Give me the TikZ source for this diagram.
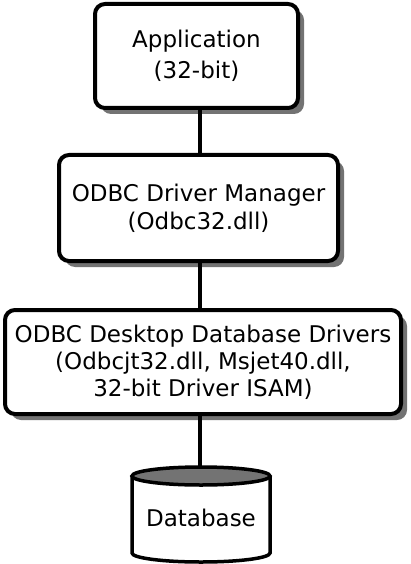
\documentclass[tikz,border=0pt]{standalone}
\usepackage{fontspec}
\setmainfont{DejaVu Sans}
\usetikzlibrary{shadows}

\begin{document}
\begin{tikzpicture}[x=1pt, y=1pt,
    layer/.style={draw, rounded corners=10pt, fill=white, align=center, inner sep=0pt, line width=4pt,
      drop shadow={shadow xshift=6pt, shadow yshift=-6pt, fill=black!55, opacity=1}},
    link/.style={line width=3.5pt},
]
  \useasboundingbox (0,0) rectangle (410,-564);
  \coordinate (ctr) at (200,0);

  % the three software layers
  \node[layer, minimum width=203pt, minimum height=104pt, font=\fontsize{23}{31}\selectfont] (app) at (196.5,-56) {Application\\(32-bit)};
  \node[layer, minimum width=279pt, minimum height=106pt, font=\fontsize{23}{28}\selectfont] (mgr) at (198.5,-208) {ODBC Driver Manager\\(Odbc32.dll)};
  \node[layer, minimum width=396pt, minimum height=104pt, font=\fontsize{23}{27}\selectfont] (drv) at (203,-362) {ODBC Desktop Database Drivers\\(Odbcjt32.dll, Msjet40.dll,\\32-bit Driver ISAM)};

  % database drum
  \draw[line width=3.5pt, fill=white] (132,-476) -- (132,-553) arc[start angle=180, end angle=360, x radius=69, y radius=9] -- (270,-476);
  \draw[line width=3.5pt, fill=black!55] (201,-476) ellipse[x radius=69, y radius=9];
  \coordinate (dbtop) at (200,-467);
  \node[font=\fontsize{23}{28}\selectfont] (db) at (201,-518) {Database};

  \draw[link] (app.south -| ctr) -- (mgr.north -| ctr);
  \draw[link] (mgr.south -| ctr) -- (drv.north -| ctr);
  \draw[link] (drv.south -| ctr) -- (dbtop);
\end{tikzpicture}
\end{document}
